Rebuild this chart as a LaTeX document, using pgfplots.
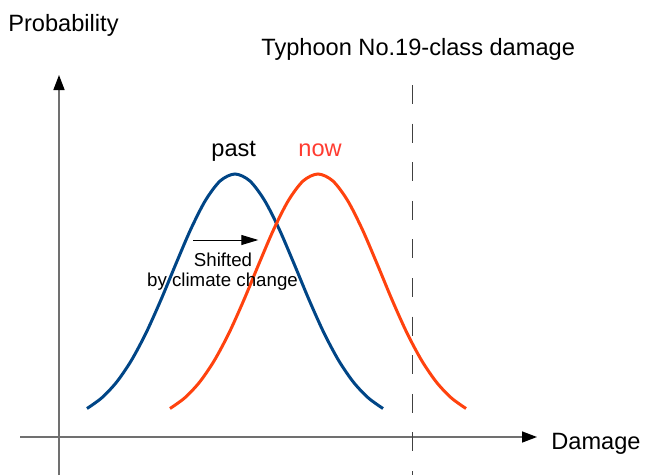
\documentclass[border=0pt]{standalone}
\usepackage{pgfplots}
\pgfplotsset{compat=1.18}
\usepackage{fontspec}
\setmainfont{Liberation Sans}
\usetikzlibrary{arrows.meta}
\definecolor{pastblue}{HTML}{004586}
\definecolor{noworange}{HTML}{FF420E}
\definecolor{nowtext}{HTML}{FF3B30}
\definecolor{axgray}{HTML}{707070}
\definecolor{dashgray}{HTML}{404040}
\begin{document}
\begin{tikzpicture}
\begin{axis}[
  width=324.5pt, height=237.5pt, scale only axis,
  xmin=0, xmax=649, ymin=0, ymax=475,
  hide axis, clip=false,
]
\path (axis cs:0,0) rectangle (axis cs:649,475);
% axes
\addplot[axgray, line width=0.75pt, -{Triangle[color=black,length=7.5pt,width=5.5pt]}] coordinates {(20,38) (537,38)};
\addplot[axgray, line width=0.75pt, -{Triangle[color=black,length=7.5pt,width=5.5pt]}] coordinates {(59,0) (59,400)};
% dashed threshold
\addplot[dashgray, line width=0.7pt, dash pattern=on 9.5pt off 9.8pt] coordinates {(412.5,390) (412.5,0)};
% past
\addplot[pastblue, line width=1.5pt, smooth] coordinates {
(87,66.5)(101.8,77.2)(116.6,92.9)(131.4,114.6)(146.2,142.4)(161,175.3)(175.8,210.9)(190.6,245.4)(205.4,274.5)(220.2,294.1)(235,301)(249.8,294.1)(264.6,274.5)(279.4,245.4)(294.2,210.9)(309,175.3)(323.8,142.4)(338.6,114.6)(353.4,92.9)(368.2,77.2)(383,66.5)};
% now
\addplot[noworange, line width=1.5pt, smooth] coordinates {
(170,66.5)(184.8,77.2)(199.6,92.9)(214.4,114.6)(229.2,142.4)(244,175.3)(258.8,210.9)(273.6,245.4)(288.4,274.5)(303.2,294.1)(318,301)(332.8,294.1)(347.6,274.5)(362.4,245.4)(377.2,210.9)(392,175.3)(406.8,142.4)(421.6,114.6)(436.4,92.9)(451.2,77.2)(466,66.5)};
% shift arrow
\addplot[black, line width=0.5pt, -{Triangle[length=8.5pt,width=5pt]}] coordinates {(193.3,235) (258.3,235)};
% texts
\node[anchor=base west, inner sep=0pt, font=\fontsize{11.8pt}{14pt}\selectfont] at (axis cs:8,444) {Probability};
\node[anchor=base west, inner sep=0pt, font=\fontsize{11.8pt}{14pt}\selectfont] at (axis cs:261,420) {Typhoon No.19-class damage};
\node[anchor=base west, inner sep=0pt, font=\fontsize{11.8pt}{14pt}\selectfont] at (axis cs:211,319) {past};
\node[anchor=base west, inner sep=0pt, font=\fontsize{11.8pt}{14pt}\selectfont, text=nowtext] at (axis cs:298,319) {now};
\node[anchor=base west, inner sep=0pt, font=\fontsize{11.8pt}{14pt}\selectfont] at (axis cs:551,26) {Damage};
\node[anchor=base, inner sep=0pt, font=\fontsize{9.35pt}{11pt}\selectfont] at (axis cs:223,209) {Shifted};
\node[anchor=base, inner sep=0pt, font=\fontsize{9.35pt}{11pt}\selectfont] at (axis cs:222.5,188.5) {by climate change};
\end{axis}
\end{tikzpicture}
\end{document}
